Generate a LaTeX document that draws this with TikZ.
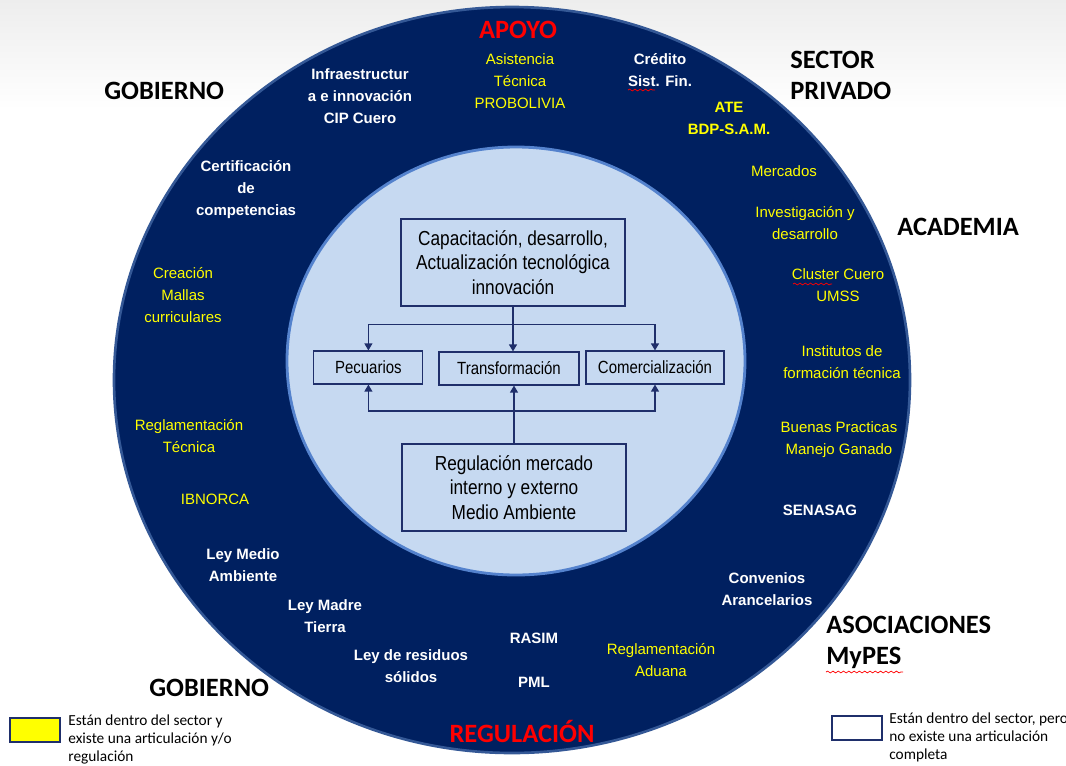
\documentclass[tikz,border=0pt]{standalone}
\usepackage{fontspec}
\setmainfont{Liberation Sans}
\newfontfamily\calib{Carlito}
\newfontfamily\narrow{Liberation Sans}[FakeStretch=0.85]
\usetikzlibrary{calc,arrows.meta,decorations.pathmorphing}
\def\px{0.567pt}
\definecolor{navy}{RGB}{0,32,96}
\definecolor{rim}{RGB}{52,88,150}
\definecolor{pale}{RGB}{198,217,241}
\definecolor{ring}{RGB}{84,130,205}
\definecolor{boxline}{RGB}{31,47,107}
\definecolor{lemon}{RGB}{255,255,0}
\tikzset{
  sector/.style={font=\calib\bfseries\fontsize{15}{17.6}\selectfont, align=left, anchor=west, inner sep=0pt},
  axis/.style={font=\calib\bfseries\fontsize{15}{17.6}\selectfont, text=red, inner sep=0pt},
  actor/.style={font=\bfseries\fontsize{8.5}{12.5}\selectfont, text=white, align=center, inner sep=0pt},
  linked/.style={font=\fontsize{8.5}{12.5}\selectfont, text=lemon, align=center, inner sep=0pt},
  stage/.style={draw=boxline, line width=0.6pt, fill=pale, inner sep=0pt, align=center,
    font=\narrow\fontsize{10}{12}\selectfont},
  bigstage/.style={stage, font=\narrow\fontsize{11.5}{14}\selectfont},
  link/.style={draw=boxline, line width=0.7pt, -{Triangle[length=4pt,width=4.5pt]}},
  keybox/.style={draw=boxline, line width=0.8pt},
  keytext/.style={font=\calib\fontsize{8.7}{10.3}\selectfont, align=left, anchor=north west, inner sep=0pt},
  typo/.style={red, line width=0.4pt, decorate, decoration={snake, amplitude=0.5pt, segment length=3pt}}
}
\begin{document}
\begin{tikzpicture}[x=\px, y=-\px]
  \useasboundingbox (0,0) rectangle (1066,765);
  \shade[top color=gray!14, bottom color=white] (0,0) rectangle (1066,110);

  % outer ring and inner disc
  \draw[rim, line width=1.5pt, fill=navy] (512,380) ellipse [x radius=398*\px, y radius=373*\px];
  \draw[ring, line width=1.6pt, fill=pale] (516,361) ellipse [x radius=229*\px, y radius=214*\px];

  % sectors round the ring
  \node[sector] (gobA) at (104,91) {GOBIERNO};
  \node[sector] (sector) at (790,75.5) {SECTOR\\PRIVADO};
  \node[sector] (academia) at (897,227) {ACADEMIA};
  \node[sector] (asoc) at (826,642.5) {ASOCIACIONES\\MyPES};
  \node[sector] (gobB) at (149,688) {GOBIERNO};
  \node[axis] (apoyo) at (518,30) {APOYO};
  \node[axis] (regul) at (522,731) {REGULACIÓN};

  % actors
  \node[linked] (asist) at (520,81.5) {Asistencia\\Técnica\\PROBOLIVIA};
  \node[actor] (credito) at (660,70) {Crédito\\Sist. Fin.};
  \node[actor] (infra) at (360,96) {Infraestructur\\a e innovación\\CIP Cuero};
  \node[linked, font=\bfseries\fontsize{8.5}{12.5}\selectfont] (ate) at (729,118) {ATE\\BDP-S.A.M.};
  \node[linked] (merc) at (784,171) {Mercados};
  \node[linked] (invest) at (805,223) {Investigación y\\desarrollo};
  \node[linked] (cluster) at (838,285) {Cluster Cuero\\UMSS};
  \node[linked] (inst) at (842,362) {Institutos de\\formación técnica};
  \node[linked] (buenas) at (839,440) {Buenas Practicas\\Manejo Ganado};
  \node[actor] (senasag) at (820,510) {SENASAG};
  \node[actor] (conv) at (767,589) {Convenios\\Arancelarios};
  \node[linked] (adua) at (661,660) {Reglamentación\\Aduana};
  \node[actor] (rasim) at (534,638) {RASIM};
  \node[actor] (pml) at (534,682) {PML};
  \node[actor] (resid) at (411,666) {Ley de residuos\\sólidos};
  \node[actor] (madre) at (325,616) {Ley Madre\\Tierra};
  \node[actor] (medio) at (243,565) {Ley Medio\\Ambiente};
  \node[linked] (ibnorca) at (215,499) {IBNORCA};
  \node[linked] (regtec) at (189,436) {Reglamentación\\Técnica};
  \node[linked] (mallas) at (183,295) {Creación\\Mallas\\curriculares};
  \node[actor] (certif) at (246,190) {Certificación\\de\\competencias};

  % spell-check marks
  \draw[typo] (628,90) -- (655,90);
  \draw[typo] (793,284) -- (832,284);
  \draw[typo] (826,672) -- (903,672);

  % value chain
  \node[bigstage, minimum width=224*\px, minimum height=87*\px] (cap) at (513,262.5)
    {Capacitación, desarrollo,\\Actualización tecnológica\\innovación};
  \node[stage, minimum width=109*\px, minimum height=33*\px] (pec) at (368.4,367.5) {Pecuarios};
  \node[stage, minimum width=140*\px, minimum height=33*\px] (trans) at (509,368.5) {Transformación};
  \node[stage, minimum width=138*\px, minimum height=33*\px] (com) at (655,367.5) {Comercialización};
  \node[bigstage, minimum width=224*\px, minimum height=87*\px] (reg) at (514,487.5)
    {Regulación mercado\\interno y externo\\Medio Ambiente};

  \coordinate (upbus) at ($(cap.south)!0.4!(cap.south |- trans.north)$);
  \coordinate (downbus) at ($(reg.north)!0.56!(reg.north |- trans.south)$);
  \draw[link] (cap.south) -- (cap.south |- trans.north);
  \draw[link] (upbus) -| (pec.north);
  \draw[link] (upbus) -| (com.north);
  \draw[link] (reg.north) -- (reg.north |- trans.south);
  \draw[link] (downbus) -| (pec.south);
  \draw[link] (downbus) -| (com.south);

  % legend
  \draw[keybox, fill=lemon] (10,718) rectangle (60,742);
  \node[keytext] (keyA) at (68,714) {Están dentro del sector y\\existe una articulación y/o\\regulación};
  \draw[keybox, fill=white] (832,716) rectangle (882,740);
  \node[keytext] (keyB) at (889,712) {Están dentro del sector, pero\\no existe una articulación\\completa};
\end{tikzpicture}
\end{document}
